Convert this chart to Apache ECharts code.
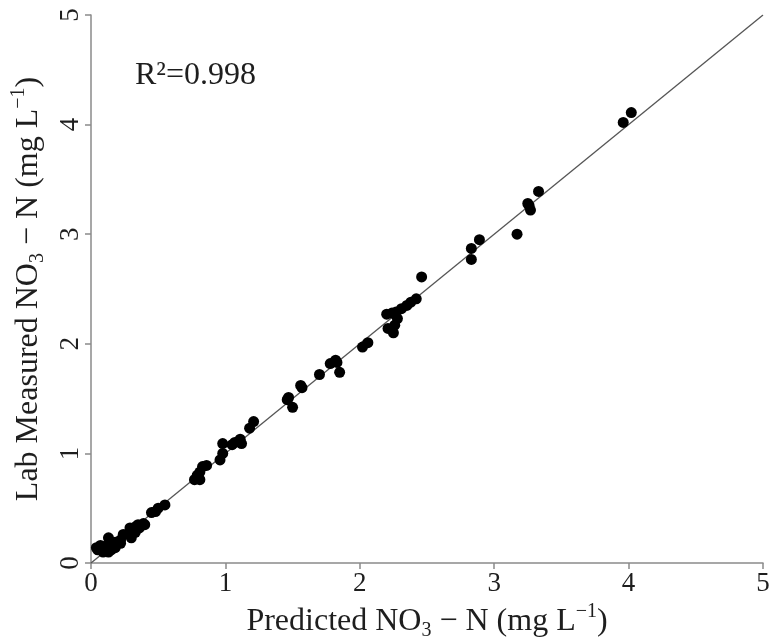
<!DOCTYPE html>
<html>
<head>
<meta charset="utf-8">
<script src="https://cdn.jsdelivr.net/npm/echarts@6/dist/echarts.min.js"></script>
<style>html,body{margin:0;padding:0;background:#fff}#c{width:774px;height:640px}</style>
</head>
<body>
<div id="c"></div>
<script>
// Predicted NO3-N (x) and lab measured NO3-N (y), mg/L
var predicted = [4.02,3.96,3.33,3.25,3.26,3.27,3.17,2.89,2.83,2.83,2.46,2.42,2.38,2.35,2.31,2.27,2.24,2.20,2.28,2.26,2.21,2.25,2.06,2.02,1.83,1.78,1.82,1.85,1.70,1.56,1.57,1.47,1.46,1.50,1.21,1.18,1.11,1.07,1.12,1.05,0.98,0.98,0.96,0.86,0.83,0.81,0.79,0.81,0.77,0.55,0.50,0.48,0.45,0.39,0.35,0.33,0.29,0.28,0.30,0.24,0.22,0.18,0.13,0.14,0.10,0.07,0.05,0.04,0.15,0.13,0.09,0.18,0.22,0.33,0.36,0.40];
var measured  = [4.11,4.02,3.39,3.28,3.26,3.22,3.00,2.95,2.87,2.77,2.61,2.41,2.38,2.35,2.32,2.29,2.28,2.27,2.23,2.17,2.14,2.10,2.01,1.97,1.83,1.82,1.85,1.74,1.72,1.62,1.60,1.51,1.49,1.42,1.29,1.23,1.13,1.10,1.09,1.08,1.09,1.00,0.94,0.89,0.88,0.83,0.80,0.76,0.76,0.53,0.50,0.47,0.46,0.36,0.35,0.33,0.32,0.27,0.23,0.26,0.21,0.19,0.23,0.16,0.15,0.16,0.12,0.14,0.12,0.10,0.10,0.14,0.18,0.28,0.32,0.35];
var oneToOne = [0, 5];
var xTicks = [0,1,2,3,4,5];
var yTicks = [0,1,2,3,4,5];
var r2Label = 'R\u00B2=0.998';

var serif = '"Liberation Serif", "DejaVu Serif", "Times New Roman", serif';
var txt = '#1e1e1e';
var axisCol = '#8a8a8a';

var pts = predicted.map(function(v, i){ return [v, measured[i]]; });
var linePts = oneToOne.map(function(v){ return [v, v]; });

var richStyle = {
  a: {fontFamily: serif, fontSize: 32, color: txt},
  s: {fontFamily: serif, fontSize: 20, color: txt, verticalAlign: 'bottom', padding: [0,0,-3,0]},
  p: {fontFamily: serif, fontSize: 20, color: txt, verticalAlign: 'top', padding: [-4,0,0,0]}
};

var chart = echarts.init(document.getElementById('c'));
chart.setOption({
  animation: false,
  backgroundColor: '#fff',
  title: {
    text: r2Label, left: 130, top: 55,
    textStyle: {fontFamily: serif, fontSize: 32, fontWeight: 'normal', color: txt}
  },
  grid: {left: 91, right: 11, top: 15, bottom: 77, outerBoundsMode: 'none', containLabel: false},
  xAxis: {
    type: 'value', min: xTicks[0], max: xTicks[xTicks.length-1], interval: 1,
    splitLine: {show: false},
    axisLine: {show: true, onZero: false, lineStyle: {color: axisCol, width: 1.5}},
    axisTick: {show: true, length: 6, lineStyle: {color: axisCol, width: 1.5}},
    axisLabel: {fontFamily: serif, fontSize: 27, color: txt, margin: 7},
    name: '{a|Predicted NO}{s|3}{a| \u2212 N (mg L}{p|\u22121}{a|)}',
    nameLocation: 'middle', nameGap: 41,
    nameTextStyle: {fontFamily: serif, fontSize: 32, color: txt, rich: richStyle}
  },
  yAxis: {
    type: 'value', min: yTicks[0], max: yTicks[yTicks.length-1], interval: 1,
    splitLine: {show: false},
    axisLine: {show: true, onZero: false, lineStyle: {color: axisCol, width: 1.5}},
    axisTick: {show: true, length: 6, lineStyle: {color: axisCol, width: 1.5}},
    axisLabel: {fontFamily: serif, fontSize: 27, color: txt, margin: 7, rotate: 90},
    name: '{a|Lab Measured NO}{s|3}{a| \u2212 N (mg L}{p|\u22121}{a|)}',
    nameLocation: 'middle', nameGap: 46, nameRotate: 90,
    nameTextStyle: {fontFamily: serif, fontSize: 32, color: txt, rich: richStyle}
  },
  series: [
    {
      type: 'line', data: linePts, symbol: 'none', silent: true,
      lineStyle: {color: '#555', width: 1.3}, z: 1
    },
    {
      type: 'scatter', data: pts, symbol: 'circle', symbolSize: 11,
      itemStyle: {color: '#000', opacity: 1}, z: 2
    }
  ]
});
</script>
</body>
</html>
